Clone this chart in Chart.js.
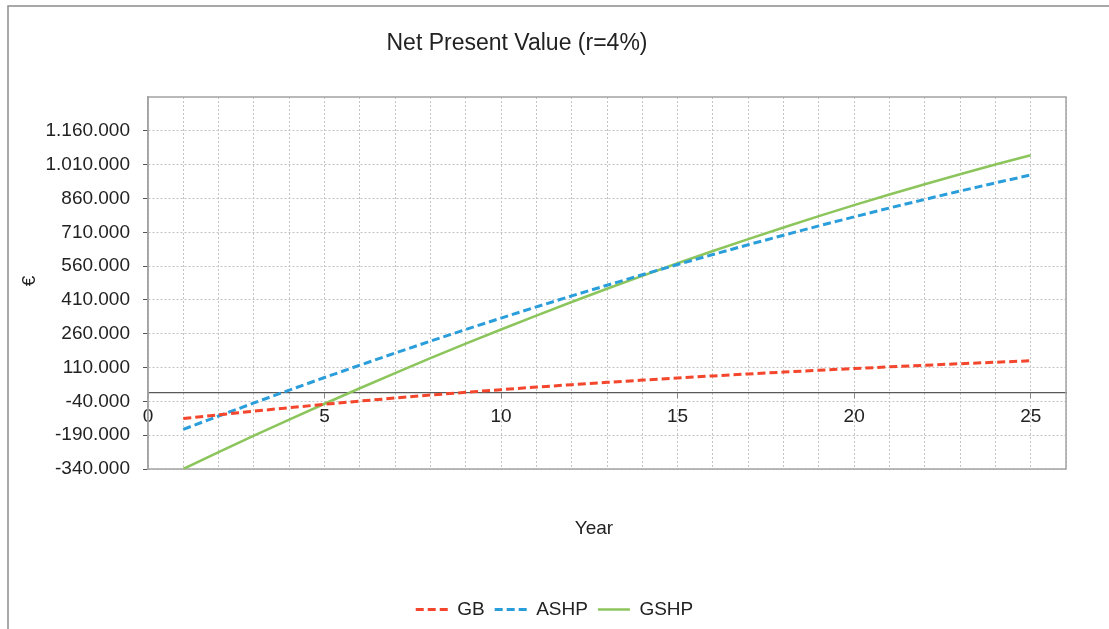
<!DOCTYPE html>
<html>
<head>
<meta charset="utf-8">
<title>Net Present Value (r=4%)</title>
<script src="https://cdn.jsdelivr.net/npm/chart.js@4.4.1/dist/chart.umd.min.js"></script>
<style>
  html, body { margin: 0; padding: 0; background: #fff; }
  #wrap { position: relative; width: 1109px; height: 629px; }
</style>
</head>
<body>
<div id="wrap"><canvas id="npv-chart"></canvas></div>
<script>
/* ---- data ---- */
const years = [1, 2, 3, 4, 5, 6, 7, 8, 9, 10, 11, 12, 13, 14, 15, 16, 17, 18, 19, 20, 21, 22, 23, 24, 25];

const gb = [-116000, -99500, -83500, -68000, -53000, -38800, -25200, -12200, 200, 12000,
  23300, 34100, 44400, 54300, 63800, 72900, 81600, 89900, 97900, 105600,
  113000, 120100, 127000, 133700, 140200];

const ashp = [-164000, -105000, -47000, 9900, 65700, 120500, 174300, 227000, 278700, 329400,
  379000, 427600, 475100, 521600, 567000, 611400, 654700, 697000, 738300, 778500,
  817700, 855800, 892900, 928900, 964000];

const gshp = [-340000, -265500, -192400, -120800, -50600, 18200, 85500, 151400, 215900, 278900,
  340500, 400600, 459300, 516600, 572400, 626800, 679800, 731400, 781500, 830200,
  877400, 923200, 967600, 1010500, 1052000];

const yTickValues = [-340000, -190000, -40000, 110000, 260000, 410000, 560000, 710000, 860000, 1010000, 1160000];
const xTickLabels = [0, 5, 10, 15, 20, 25];

const FONT = '"Liberation Sans", Arial, sans-serif';
Chart.defaults.font.family = FONT;
Chart.defaults.color = '#222';

function fmtDots(v) {
  const s = String(Math.abs(v)).replace(/\B(?=(\d{3})+(?!\d))/g, '.');
  return (v < 0 ? '-' : '') + s;
}

function toPoints(vals) {
  return years.map((yr, i) => ({ x: yr, y: vals[i] }));
}

// frame, plot box and the free-standing texts
const decor = {
  id: 'decor',
  beforeDatasetsDraw(chart) {
    const { ctx, chartArea: a } = chart;
    ctx.save();
    ctx.strokeStyle = '#a3a3a3';
    ctx.lineWidth = 1.5;
    ctx.strokeRect(a.left, a.top, a.right - a.left, a.bottom - a.top);
    ctx.restore();
  },
  afterDraw(chart) {
    const { ctx } = chart;
    ctx.save();
    ctx.strokeStyle = '#8c8c8c';
    ctx.lineWidth = 1.5;
    ctx.beginPath();
    ctx.moveTo(8, 640);
    ctx.lineTo(8, 6);
    ctx.lineTo(1120, 6);
    ctx.stroke();

    ctx.fillStyle = '#222';
    ctx.textAlign = 'center';
    ctx.textBaseline = 'alphabetic';
    ctx.font = '23px ' + FONT;
    ctx.fillText('Net Present Value (r=4%)', 517, 50);

    ctx.font = '19px ' + FONT;
    ctx.fillText('Year', 594, 534);

    ctx.translate(30, 281);
    ctx.rotate(-Math.PI / 2);
    ctx.textBaseline = 'middle';
    ctx.fillText('€', 0, 0);
    ctx.restore();
  }
};

const ctx = document.getElementById('npv-chart').getContext('2d');

new Chart(ctx, {
  type: 'line',
  data: {
    datasets: [
      {
        label: 'GB',
        data: toPoints(gb),
        borderColor: '#f4462c',
        borderWidth: 3,
        borderDash: [8, 4],
        pointRadius: 0,
        fill: false,
      },
      {
        label: 'ASHP',
        data: toPoints(ashp),
        borderColor: '#2a9ddb',
        borderWidth: 3,
        borderDash: [8, 4],
        pointRadius: 0,
        fill: false,
      },
      {
        label: 'GSHP',
        data: toPoints(gshp),
        borderColor: '#8cc55c',
        borderWidth: 2.5,
        pointRadius: 0,
        fill: false,
      },
    ],
  },
  options: {
    responsive: true,
    maintainAspectRatio: false,
    animation: false,
    layout: { padding: { top: 97, left: 0, right: 0, bottom: 0 } },
    plugins: {
      title: { display: false },
      tooltip: { enabled: false },
      legend: {
        position: 'bottom',
        labels: {
          usePointStyle: true,
          pointStyle: 'line',
          pointStyleWidth: 32,
          padding: 10,
          color: '#222',
          font: { size: 19 },
          // keep the dataset dash / width on the legend line samples
          generateLabels: chart => {
            const items = Chart.defaults.plugins.legend.labels.generateLabels(chart);
            return items.map(it => {
              const ds = chart.data.datasets[it.datasetIndex];
              it.lineDash = ds.borderDash || [];
              it.lineWidth = ds.borderWidth;
              it.strokeStyle = ds.borderColor;
              return it;
            });
          },
        },
      },
    },
    scales: {
      x: {
        type: 'linear',
        position: { y: 0 },
        min: 0,
        max: 26,
        grid: {
          color: '#c4c4c4',
          lineWidth: 1,
          tickLength: 5,
          tickColor: c => (c.tick && xTickLabels.includes(c.tick.value) ? '#888' : 'rgba(0,0,0,0)'),
        },
        border: { display: true, color: '#5a5a5a', width: 1.2, dash: [2, 2] },
        ticks: {
          stepSize: 1,
          autoSkip: false,
          maxRotation: 0,
          padding: 8,
          color: '#222',
          font: { size: 19 },
          callback: v => (xTickLabels.includes(v) ? String(v) : ''),
        },
      },
      x2: {
        type: 'linear',
        position: 'bottom',
        display: true,
        grid: { display: false },
        border: { display: false },
        ticks: { display: false },
        afterFit: s => { s.height = 121; },
      },
      y: {
        type: 'linear',
        position: 'left',
        min: -340000,
        max: 1310000,
        afterBuildTicks: s => { s.ticks = yTickValues.map(v => ({ value: v })); },
        afterFit: s => { s.width = 148; s.paddingTop = 0; s.paddingBottom = 0; },
        grid: {
          color: '#c4c4c4',
          lineWidth: 1,
          tickLength: 5,
          tickColor: '#555',
        },
        border: { display: true, color: '#a3a3a3', width: 1.5, dash: [2, 2] },
        ticks: {
          padding: 13,
          color: '#222',
          font: { size: 19 },
          callback: v => fmtDots(v),
        },
      },
      y2: {
        type: 'linear',
        position: 'right',
        display: true,
        grid: { display: false },
        border: { display: false },
        ticks: { display: false },
        afterFit: s => { s.width = 43; },
      },
    },
  },
  plugins: [decor],
});
</script>
</body>
</html>
